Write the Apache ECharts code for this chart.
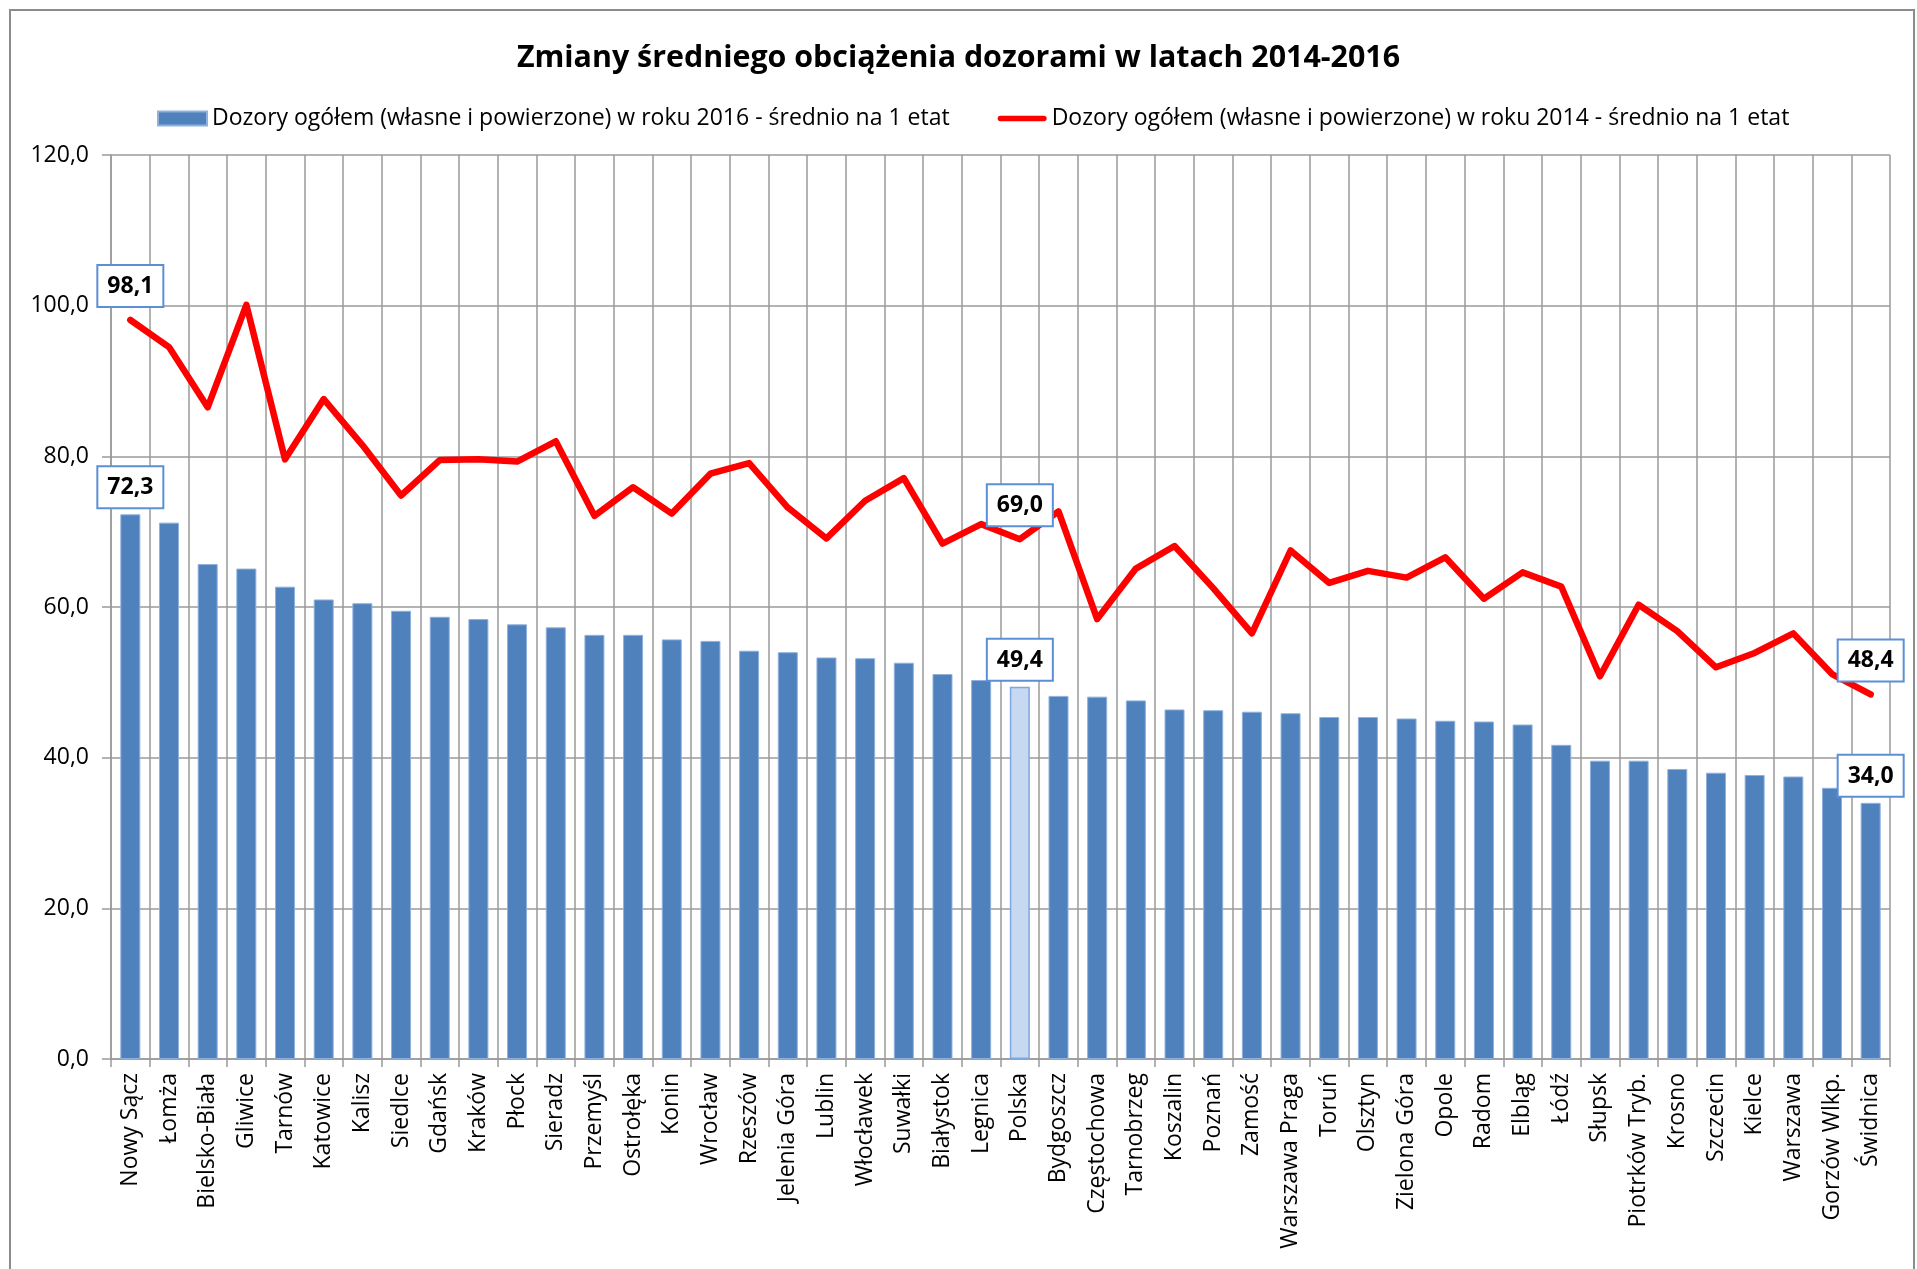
<!DOCTYPE html>
<html><head><meta charset="utf-8">
<script src="https://cdn.jsdelivr.net/npm/echarts@6/dist/echarts.min.js"></script>
<style>html,body{margin:0;padding:0;background:#fff}#c{width:1917px;height:1269px}</style>
</head><body><div id="c"></div>
<script>
const categories = ['Nowy Sącz','Łomża','Bielsko-Biała','Gliwice','Tarnów','Katowice','Kalisz','Siedlce','Gdańsk','Kraków','Płock','Sieradz','Przemyśl','Ostrołęka','Konin','Wrocław','Rzeszów','Jelenia Góra','Lublin','Włocławek','Suwałki','Białystok','Legnica','Polska','Bydgoszcz','Częstochowa','Tarnobrzeg','Koszalin','Poznań','Zamość','Warszawa Praga','Toruń','Olsztyn','Zielona Góra','Opole','Radom','Elbląg','Łódź','Słupsk','Piotrków Tryb.','Krosno','Szczecin','Kielce','Warszawa','Gorzów Wlkp.','Świdnica'];
const dozory2016 = [72.3,71.2,65.7,65.1,62.7,61.0,60.5,59.5,58.7,58.4,57.7,57.3,56.3,56.3,55.7,55.5,54.2,54.0,53.3,53.2,52.6,51.1,50.3,49.4,48.2,48.1,47.6,46.4,46.3,46.1,45.9,45.4,45.4,45.2,44.9,44.8,44.4,41.7,39.6,39.6,38.5,38.0,37.7,37.5,36.0,34.0];
const dozory2014 = [98.1,94.5,86.5,100.1,79.6,87.6,81.5,74.8,79.5,79.6,79.3,82.0,72.1,75.9,72.4,77.7,79.1,73.2,69.1,74.1,77.1,68.4,71.0,69.0,72.7,58.4,65.1,68.1,62.5,56.5,67.5,63.2,64.8,63.9,66.6,61.1,64.6,62.7,50.8,60.3,56.8,52.0,53.9,56.5,51.1,48.4];
const labelledNames = ['Nowy Sącz','Polska','Świdnica'];
const highlightName = 'Polska';
const seriesNames = ['Dozory ogółem (własne i powierzone) w roku 2016 - średnio na 1 etat','Dozory ogółem (własne i powierzone) w roku 2014 - średnio na 1 etat'];
const titleText = 'Zmiany średniego obciążenia dozorami w latach 2014-2016';

const fmt = v => Number(v).toFixed(1).replace('.', ',');
const F = 'Open Sans';
const labelBox = {
  show: true, position: 'top', formatter: p => fmt(p.value),
  fontFamily: F, fontWeight: 'bold', fontSize: 23, color: '#000', lineHeight: 25,
  backgroundColor: '#fff', borderColor: '#5b8fd8', borderWidth: 2, padding: [8, 9, 7, 9]
};
const barData = dozory2016.map((v, i) => {
  const d = { value: v };
  if (categories[i] === highlightName) d.itemStyle = { color: '#c6d9f1', borderColor: '#7ea6e0', borderWidth: 1.5 };
  if (labelledNames.includes(categories[i])) d.label = Object.assign({}, labelBox, { distance: 7 });
  return d;
});
const lineData = dozory2014.map((v, i) => {
  const d = { value: v };
  if (labelledNames.includes(categories[i])) d.label = Object.assign({}, labelBox, { distance: 14 });
  return d;
});
const gridCol = '#9a9a9a';
const chart = echarts.init(document.getElementById('c'), null, { renderer: 'canvas' });
chart.setOption({
  backgroundColor: '#fff',
  animation: false,
  title: { text: titleText, left: 'center', top: 38,
    textStyle: { fontFamily: F, fontWeight: 'bold', fontSize: 30.4, color: '#000' } },
  legend: {
    left: 152, top: 102, itemWidth: 49, itemHeight: 14, itemGap: 48,
    textStyle: { fontFamily: F, fontSize: 23, color: '#000' },
    data: [
      { name: seriesNames[0], icon: 'rect' },
      { name: seriesNames[1], icon: 'path://M3,0 L50,0 A3,3 0 0 1 50,6 L3,6 A3,3 0 0 1 3,0 Z', itemStyle: { color: '#ff0000' } }
    ]
  },
  graphic: [{ type: 'rect', shape: { x: 10, y: 10, width: 1904, height: 1280 },
    style: { fill: 'none', stroke: '#8c8c8c', lineWidth: 2 }, silent: true, z: 100 }],
  grid: { left: 111, right: 27, top: 155, bottom: 210 },
  xAxis: {
    type: 'category', data: categories, boundaryGap: true,
    axisLine: { lineStyle: { color: gridCol, width: 1.5 } },
    axisTick: { show: true, length: 8, lineStyle: { color: gridCol, width: 1.5 } },
    splitLine: { show: true, lineStyle: { color: gridCol, width: 1.5 } },
    axisLabel: { rotate: 90, interval: 0, margin: 14, fontFamily: F, fontSize: 23, color: '#000' }
  },
  yAxis: {
    type: 'value', min: 0, max: 120, interval: 20,
    axisLine: { show: true, lineStyle: { color: gridCol, width: 1.5 } },
    axisTick: { show: true, length: 9, lineStyle: { color: gridCol, width: 1.5 } },
    splitLine: { show: true, lineStyle: { color: gridCol, width: 1.5 } },
    axisLabel: { formatter: v => fmt(v), margin: 22, fontFamily: F, fontSize: 23, color: '#000' }
  },
  series: [
    { name: seriesNames[0], type: 'bar', data: barData, barWidth: 20,
      itemStyle: { color: '#4f81bd', borderColor: '#8fb1dc', borderWidth: 1 },
      label: { show: false } },
    { name: seriesNames[1], type: 'line', data: lineData, symbol: 'circle', symbolSize: 0.01, showSymbol: true,
      lineStyle: { color: '#ff0000', width: 6.5, join: 'round', cap: 'round' }, itemStyle: { color: '#ff0000' },
      label: { show: false }, z: 3 }
  ]
});
</script></body></html>
